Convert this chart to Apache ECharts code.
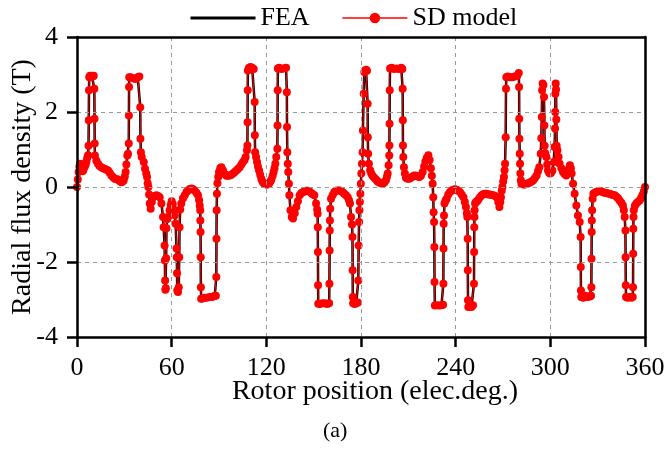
<!DOCTYPE html>
<html><head><meta charset="utf-8">
<script src="https://cdn.jsdelivr.net/npm/echarts@6/dist/echarts.min.js"></script>
<style>html,body{margin:0;padding:0;background:#fff}#c{width:666px;height:449px}</style>
</head><body><div id="c"></div>
<script>
// x tick labels / y tick labels
const xTicks = [0, 60, 120, 180, 240, 300, 360];
const yTicks = [-4, -2, 0, 2, 4];
const seriesNames = ['FEA', 'SD model'];

// SD model samples: [rotor position (elec.deg.), radial flux density (T)]
const sdModelPoints = [
 [0,0],[0.5,0.2],[1,0.4],[1.5,0.55],[2,0.62],[2.5,0.6],[3,0.5],[3.5,0.42],[4,0.45],[4.5,0.52],[5,0.55],[5.5,0.6],[6,0.68],[6.5,0.78],[7,0.85],
 [7.3,1.1],[7.45,1.78],[7.6,2.58],[7.75,2.93],[8.2,2.97],[8.8,2.93],[9.4,2.97],[10,2.95],[10.6,2.97],
 [11,2.62],[11.1,1.82],[11.2,1.16],[11.35,0.84],
 [12.3,0.7],[13.3,0.62],[14.3,0.56],[15.4,0.53],[16.4,0.5],[17.5,0.49],[18.6,0.46],[19.7,0.44],[20.7,0.38],[21.8,0.31],[22.9,0.26],[23.9,0.22],[25,0.21],[26,0.2],[27,0.16],[28.1,0.13],[29,0.15],[29.6,0.18],[30.3,0.28],[30.8,0.4],[31.3,0.6],[31.9,0.84],
 [32.3,0.89],[32.8,1.16],[32.9,1.91],[33,2.67],[33.1,2.93],[34,2.93],[35.5,2.9],[37,2.88],[38.5,2.93],[39.5,2.95],
 [40.1,2.13],[40.2,1.29],[40.5,0.93],[41,0.8],
 [42.3,0.67],[43.1,0.49],[43.9,0.36],[44.4,0.27],[44.8,0.1],[45.2,0],[45.7,-0.2],[46.1,-0.44],[46.7,-0.58],[47.4,-0.4],[48.2,-0.27],[49.2,-0.24],[50.3,-0.22],[51.3,-0.24],[52.4,-0.27],[53.5,-0.44],[54.5,-0.8],[54.9,-1.07],
 [55.5,-1.56],[55.7,-1.96],[55.85,-2.49],[56,-2.74],[56.3,-2.7],[56.5,-1.9],[56.7,-1.1],[57.2,-0.85],
 [57.7,-0.8],[58.7,-0.62],[59.4,-0.48],[60,-0.38],[60.7,-0.45],[61.3,-0.6],[62,-0.75],[62.5,-0.98],
 [63.1,-1.64],[63.25,-1.87],[63.4,-2.3],[63.55,-2.76],[64,-2.8],[64.5,-2.67],[64.8,-1.87],[65,-1.07],[65.4,-0.6],
 [66.1,-0.44],[67.2,-0.3],[68.3,-0.22],[69.4,-0.13],[70.4,-0.09],[71.5,-0.05],[72.5,-0.04],[73.6,-0.06],[74.6,-0.09],[75.7,-0.15],[76.7,-0.22],[77.4,-0.35],[77.8,-0.5],
 [78.1,-0.62],[78.2,-0.89],[78.3,-1.2],[78.4,-1.87],[78.5,-2.67],[78.7,-2.98],
 [79.5,-2.97],[80.8,-2.95],[82.3,-2.95],[84,-2.93],[85.7,-2.93],[87.3,-2.9],[88,-2.9],
 [88.3,-2.4],[88.4,-1.38],[88.5,-0.62],[88.7,-0.18],[89,0.1],[89.5,0.27],[90,0.4],[90.8,0.5],[91.5,0.53],
 [92.5,0.45],[93.6,0.35],[94.7,0.3],[95.7,0.3],[96.8,0.31],[97.8,0.33],[98.9,0.36],[100,0.4],[101,0.44],[102,0.48],[103.1,0.53],[104.2,0.6],[105.2,0.67],[106.2,0.72],[106.9,0.8],[107.7,0.98],
 [108,1.11],[108.1,1.73],[108.2,2.58],[108.3,3.11],[109,3.18],[110,3.2],[111,3.18],[112,3.15],
 [112.6,2.27],[112.7,1.38],[112.9,0.93],
 [113.5,0.8],[114.1,0.67],[114.7,0.55],[115.4,0.44],[116.1,0.33],[116.8,0.22],[117.5,0.15],[118.3,0.1],[119.2,0.08],[120,0.07],[120.8,0.07],[121.7,0.09],[122.5,0.14],[123.2,0.2],[124,0.3],[124.6,0.4],[125.2,0.5],[125.7,0.62],[126.3,0.8],
 [127,1.02],[127.1,1.64],[127.2,2.58],[127.3,3.16],[128.2,3.18],[129.5,3.15],[131,3.16],[132.5,3.18],
 [133,2.53],[133.1,1.6],[133.3,0.93],[133.6,0.62],[133.9,0.4],[134.3,0.09],[134.6,-0.22],[135.3,-0.62],[136.1,-0.8],[136.9,-0.84],
 [138,-0.7],[139,-0.53],[140,-0.38],[141.1,-0.22],[142.2,-0.16],[143.3,-0.13],[144.3,-0.12],[145.4,-0.1],[146.4,-0.1],[147.4,-0.12],[148.4,-0.16],[149.4,-0.19],[150.4,-0.22],[151.5,-0.44],[152.2,-0.6],
 [152.5,-0.71],[152.6,-1.07],[152.7,-1.73],[152.8,-2.62],[152.9,-3.11],
 [154,-3.12],[155.5,-3.1],[157,-3.1],[158.5,-3.12],[159.8,-3.1],
 [160,-2.58],[160.1,-1.69],[160.2,-1.16],[160.3,-0.89],[160.5,-0.58],[161,-0.31],
 [162,-0.22],[163,-0.14],[164.1,-0.1],[165.2,-0.09],[166.3,-0.09],[167.3,-0.1],[168.4,-0.14],[169.4,-0.18],[170.5,-0.22],[171.6,-0.27],[172.4,-0.35],[173,-0.44],[173.7,-0.8],[174.3,-1.0],
 [174.6,-1.33],[174.7,-2.22],[174.8,-2.93],[175,-3.1],[176,-3.12],[177,-3.1],[178,-3.08],
 [178.3,-2.49],[178.5,-1.56],[178.8,-0.93],[179,-0.62],[179.3,-0.4],[179.6,-0.18],[179.9,0.09],[180.2,0.36],[180.6,0.62],[181,0.93],[181.2,1.51],[181.7,2.49],[182.1,3.07],
 [182.6,3.11],[183.2,3.13],[183.8,3.1],
 [184.2,2.22],[184.3,1.33],[184.5,0.89],[185,0.62],[185.8,0.45],[186.5,0.36],[187.3,0.3],[188.4,0.25],[189.5,0.2],[190.5,0.15],[191.6,0.12],[192.7,0.1],[193.7,0.09],[194.8,0.12],[195.8,0.18],[196.4,0.27],[196.9,0.36],[197.5,0.58],
 [197.9,0.84],[198,1.11],[198.1,1.69],[198.2,2.58],[198.4,3.16],[199.5,3.18],[201,3.15],[202.5,3.16],[204,3.15],[205.5,3.18],[206.2,3.15],
 [206.4,2.62],[206.5,1.78],[206.6,1.11],[206.8,0.8],[207.2,0.53],[207.8,0.36],[208.5,0.25],[209.5,0.22],[210.6,0.22],[211.6,0.25],[212.7,0.28],[213.8,0.31],[214.9,0.3],[215.9,0.28],[217,0.27],[218,0.3],[219.1,0.4],[220,0.55],[220.8,0.68],[221.7,0.78],[222.7,0.85],[223.5,0.72],[224.3,0.5],[224.9,0.3],[225.4,0.09],[225.8,-0.27],[226,-0.67],[226.3,-0.93],
 [226.5,-1.6],[226.6,-2.53],[226.8,-3.16],[228,-3.15],[229.5,-3.16],[231,-3.15],[232,-3.14],
 [232.2,-2.58],[232.3,-1.64],[232.4,-0.98],[232.6,-0.76],[232.9,-0.44],
 [233.6,-0.36],[234.3,-0.31],[235.3,-0.2],[236.4,-0.13],[237.5,-0.09],[238.5,-0.07],[239.5,-0.06],[240.6,-0.07],[241.6,-0.1],[242.7,-0.13],[243.8,-0.2],[244.9,-0.27],[245.8,-0.4],[246.5,-0.53],[247.1,-0.7],
 [247.4,-0.8],[247.6,-1.38],[247.7,-2.22],[247.8,-3.02],[248,-3.2],[249,-3.18],[250,-3.2],[251,-3.15],
 [251.6,-2.58],[251.7,-1.73],[251.8,-1.07],[251.9,-0.8],[252,-0.62],[252.3,-0.44],[252.8,-0.4],
 [253.6,-0.38],[254.4,-0.33],[255.4,-0.27],[256.5,-0.22],[257.5,-0.19],[258.6,-0.18],[259.6,-0.18],[260.7,-0.2],[261.7,-0.2],[262.8,-0.21],[263.9,-0.22],[265,-0.24],[266,-0.27],[267,-0.4],[267.7,-0.53],[268.3,-0.4],[268.7,-0.27],[269.2,-0.1],[269.6,0],[270.1,0.15],[270.6,0.27],[271,0.45],[271.3,0.62],
 [271.7,1.33],[271.9,2.62],[272.1,2.93],[273,2.95],[274.5,2.93],[276,2.93],[277.5,2.95],[279,2.97],[280,3.04],
 [280.2,2.67],[280.3,1.82],[280.4,1.29],[280.6,0.89],[280.8,0.62],[281,0.36],[281.3,0.18],[281.7,0.09],
 [282.9,0.07],[284,0.07],[285,0.08],[286,0.1],[287,0.12],[288.1,0.15],[289.2,0.18],[290.2,0.24],[291.3,0.31],[292.2,0.42],[293,0.53],[293.9,0.89],[294.3,1.3],
 [294.6,1.87],[294.8,2.58],[295.1,2.76],[295.6,2.72],[296,2.4],[296.2,1.64],[296.4,1.1],[296.8,0.9],
 [297.5,0.8],[298,0.6],[298.5,0.44],[299.2,0.38],[299.8,0.36],[300.5,0.38],[301.3,0.44],[302.1,0.67],[302.7,1.07],
 [303,1.56],[303.1,2.0],[303.2,2.49],[303.4,2.76],[303.6,2.6],[303.8,1.8],[304,1.1],[304.5,0.98],[305.2,0.8],[305.9,0.62],[307,0.5],[308,0.4],[309,0.35],[310.1,0.31],[311,0.38],[311.8,0.49],[312.4,0.58],[313,0.5],[313.5,0.36],[314.4,0.09],[315.4,-0.18],[316.5,-0.49],[317.5,-0.76],[318.6,-0.93],
 [319.2,-1.33],[319.3,-2.13],[319.4,-2.76],[319.6,-2.93],[320.8,-2.95],[322.2,-2.9],[323.6,-2.93],[325,-2.92],[325.8,-2.9],
 [326,-2.67],[326.1,-1.91],[326.2,-1.2],[326.3,-0.89],[326.5,-0.62],[326.8,-0.31],[327.3,-0.18],
 [328.2,-0.15],[329.1,-0.13],[330.2,-0.11],[331.3,-0.1],[332.3,-0.12],[333.4,-0.14],[334.4,-0.15],[335.5,-0.16],[336.5,-0.17],[337.6,-0.18],[338.7,-0.2],[339.7,-0.21],[340.8,-0.22],[341.9,-0.26],[342.9,-0.3],[343.9,-0.36],[345,-0.42],[346,-0.49],[346.6,-0.62],[347.1,-0.8],
 [347.6,-1.16],[347.7,-1.87],[347.8,-2.62],[348,-2.93],[349,-2.95],[350.2,-2.93],[351.3,-2.95],[352.2,-2.93],
 [352.4,-2.67],[352.5,-1.78],[352.6,-1.11],[352.7,-0.8],[352.9,-0.62],[353.6,-0.5],[354.5,-0.44],[355.5,-0.4],[356.6,-0.36],[357.4,-0.3],[358.3,-0.22],[359.2,-0.12],[360,0]
];
// FEA curve: coincides with the SD model samples at the picture's resolution
const feaPoints = sdModelPoints;

const FONT = '"Liberation Serif", "Times New Roman", serif';
const frameLine = {show: true, onZero: false, lineStyle: {color: '#000', width: 2.5}};
const gridDash = {show: true, showMinLine: false, showMaxLine: false, lineStyle: {color: '#999', type: [4, 4], width: 1}};
const chart = echarts.init(document.getElementById('c'), null, {renderer: 'canvas'});
chart.setOption({
  animation: false,
  backgroundColor: '#fff',
  legend: {
    top: 0, left: 184,
    itemWidth: 65, itemHeight: 13, itemGap: 32,
    textStyle: {fontFamily: FONT, fontSize: 26, color: '#000'},
    data: [
      {name: seriesNames[0], itemStyle: {color: 'rgba(0,0,0,0)', borderWidth: 0}, lineStyle: {color: '#000', width: 3}},
      {name: seriesNames[1], lineStyle: {color: '#ff0000', width: 1.6}}
    ]
  },
  grid: {left: 77, right: 21, top: 37, bottom: 112, outerBoundsMode: 'none', containLabel: false},
  xAxis: [{
    type: 'value', min: xTicks[0], max: xTicks[xTicks.length-1], interval: 60,
    name: 'Rotor position (elec.deg.)', nameLocation: 'middle', nameGap: 41, nameMoveOverlap: false,
    nameTextStyle: {fontFamily: FONT, fontSize: 28, color: '#000', padding: [0,0,0,28]},
    axisLine: frameLine,
    axisTick: {show: true, inside: false, length: 10, lineStyle: {color: '#000', width: 2.5}},
    axisLabel: {fontFamily: FONT, fontSize: 26, color: '#000', margin: 18},
    splitLine: gridDash, z: 5
  }, {
    type: 'value', position: 'top', min: xTicks[0], max: xTicks[xTicks.length-1], interval: 60,
    axisLine: frameLine, axisTick: {show: false}, axisLabel: {show: false}, splitLine: {show: false}, z: 5
  }],
  yAxis: [{
    type: 'value', min: yTicks[0], max: yTicks[yTicks.length-1], interval: 2,
    name: 'Radial flux density (T)', nameLocation: 'middle', nameGap: 40, nameMoveOverlap: false,
    nameTextStyle: {fontFamily: FONT, fontSize: 28, color: '#000'},
    axisLine: frameLine,
    axisTick: {show: true, inside: false, length: 10, lineStyle: {color: '#000', width: 2.5}},
    axisLabel: {fontFamily: FONT, fontSize: 26, color: '#000', margin: 19},
    splitLine: gridDash, z: 5
  }, {
    type: 'value', position: 'right', min: yTicks[0], max: yTicks[yTicks.length-1], interval: 2,
    axisLine: frameLine, axisTick: {show: false}, axisLabel: {show: false}, splitLine: {show: false}, z: 5
  }],
  graphic: [{
    type: 'text', left: 323, top: 420,
    style: {text: '(a)', font: '22px ' + FONT, fill: '#000'}
  }],
  series: [
    {
      name: seriesNames[0], type: 'line', data: feaPoints, symbol: 'none',
      lineStyle: {color: '#000', width: 2.5}, itemStyle: {color: '#000'}, z: 2
    },
    {
      name: seriesNames[1], type: 'line', data: sdModelPoints, symbol: 'circle', symbolSize: 8,
      showSymbol: true,
      lineStyle: {color: '#ff0000', width: 1}, itemStyle: {color: '#ff0000'}, z: 3
    }
  ]
});
</script>
</body></html>
